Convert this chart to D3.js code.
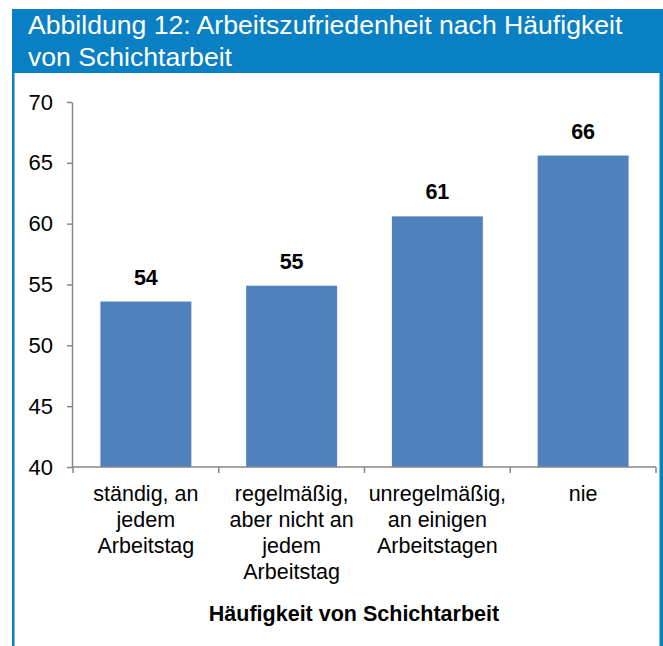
<!DOCTYPE html>
<html>
<head>
<meta charset="utf-8">
<script src="https://cdn.jsdelivr.net/npm/d3@7"></script>
<style>
  body { margin: 0; background: #fff; }
  text { font-family: "Liberation Sans", Arial, sans-serif; }
</style>
</head>
<body>
<div id="chart"></div>
<script>
const titleLines = ["Abbildung 12: Arbeitszufriedenheit nach Häufigkeit", "von Schichtarbeit"];
const categories = [
    "ständig, an\njedem\nArbeitstag",
    "regelmäßig,\naber nicht an\njedem\nArbeitstag",
    "unregelmäßig,\nan einigen\nArbeitstagen",
    "nie"
];
const values = [53.6, 54.9, 60.6, 65.6];
const valueLabels = ["54", "55", "61", "66"];
const yTicks = [40, 45, 50, 55, 60, 65, 70];
const xTitle = "Häufigkeit von Schichtarbeit";

const W = 663, H = 646;
const blue = "#0a80c4";

const svg = d3.select("#chart").append("svg")
    .attr("width", W)
    .attr("height", H);

// frame: title band plus side borders
svg.append("rect").attr("x", 12).attr("y", 9).attr("width", 651).attr("height", 64).attr("fill", blue);
svg.append("rect").attr("x", 12).attr("y", 9).attr("width", 2.5).attr("height", H - 9).attr("fill", blue);
svg.append("rect").attr("x", 659.5).attr("y", 9).attr("width", 3.5).attr("height", H - 9).attr("fill", blue);

svg.selectAll(".title")
    .data(titleLines)
    .enter().append("text")
    .attr("class", "title")
    .attr("x", 28)
    .attr("y", (d, i) => 34 + i * 31.5)
    .attr("fill", "#fff")
    .style("font-size", "26.6px")
    .text(d => d);

const plot = { left: 73, right: 656, top: 102, bottom: 467 };

const x = d3.scaleBand()
    .domain(categories)
    .range([plot.left, plot.right])
    .paddingInner(0.376)
    .paddingOuter(0.188);

const y = d3.scaleLinear()
    .domain([40, 70])
    .range([plot.bottom, plot.top]);

// bars
svg.selectAll(".bar")
    .data(values)
    .enter().append("rect")
    .attr("class", "bar")
    .attr("x", (d, i) => x(categories[i]))
    .attr("y", d => y(d))
    .attr("width", x.bandwidth())
    .attr("height", d => y(40) - y(d))
    .attr("fill", "#4f81bd");

// value labels
svg.selectAll(".vlabel")
    .data(values)
    .enter().append("text")
    .attr("class", "vlabel")
    .attr("x", (d, i) => x(categories[i]) + x.bandwidth() / 2)
    .attr("y", d => y(d) - 17)
    .attr("text-anchor", "middle")
    .style("font-size", "21.5px")
    .style("font-weight", "bold")
    .text((d, i) => valueLabels[i]);

// y axis
const yAxis = svg.append("g")
    .attr("transform", `translate(${plot.left - 1},0)`)
    .call(d3.axisLeft(y).tickValues(yTicks).tickSize(5).tickSizeOuter(0).tickPadding(14));
yAxis.selectAll("path, line").attr("stroke", "#868686").attr("stroke-width", 1.5);
yAxis.selectAll("text").style("font-size", "22px").attr("fill", "#000");

// x axis line with ticks at category boundaries
const gx = svg.append("g");
gx.append("line")
    .attr("x1", plot.left - 1).attr("x2", plot.right)
    .attr("y1", plot.bottom).attr("y2", plot.bottom)
    .attr("stroke", "#868686").attr("stroke-width", 1.5);
gx.selectAll(".xtick")
    .data(d3.range(categories.length + 1))
    .enter().append("line")
    .attr("x1", i => plot.left + i * x.step())
    .attr("x2", i => plot.left + i * x.step())
    .attr("y1", plot.bottom).attr("y2", plot.bottom + 6)
    .attr("stroke", "#868686").attr("stroke-width", 1.5);

// category labels, wrapped
categories.forEach((c, i) => {
    const t = svg.append("text")
        .attr("text-anchor", "middle")
        .attr("x", x(c) + x.bandwidth() / 2)
        .attr("y", 500.5)
        .style("font-size", "21.5px");
    c.split("\n").forEach((line, j) => {
        t.append("tspan")
            .attr("x", x(c) + x.bandwidth() / 2)
            .attr("dy", j === 0 ? 0 : 26)
            .text(line);
    });
});

svg.append("text")
    .attr("x", 354)
    .attr("y", 620.5)
    .attr("text-anchor", "middle")
    .style("font-size", "21.5px")
    .style("font-weight", "bold")
    .text(xTitle);
</script>
</body>
</html>
